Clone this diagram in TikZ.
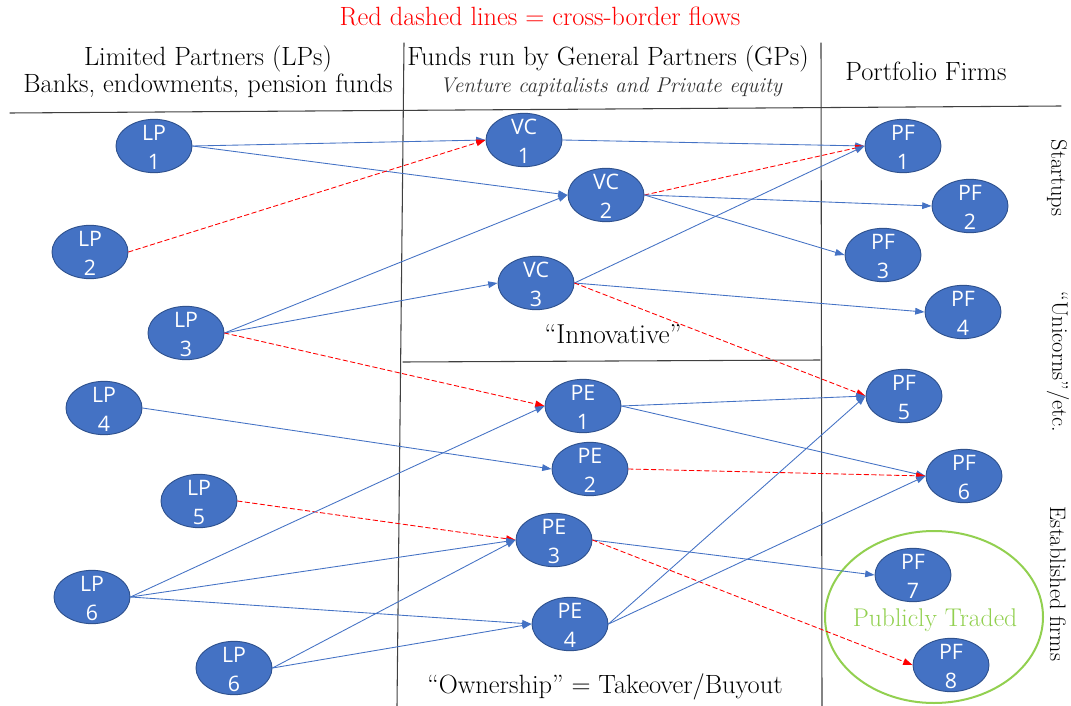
\documentclass[tikz,border=0pt]{standalone}
\usepackage{fontspec}
\newfontfamily\ovalfont{Open Sans}
\usetikzlibrary{arrows.meta,shapes.geometric}
\definecolor{ofblue}{RGB}{68,114,196}
\definecolor{ofedge}{RGB}{47,82,143}
\definecolor{ofgreen}{RGB}{146,208,80}
% two-line label inside an oval, kept from growing the oval
\newcommand{\ovtxt}[2]{\smash{\raisebox{-6.8pt}{\begin{tabular}{@{}c@{}}#1\\#2\end{tabular}}}}

\begin{document}
\begin{tikzpicture}[x=0.75pt, y=-0.75pt, line cap=round, line join=round,
    oval/.style={ellipse, draw=ofedge, line width=0.7pt, fill=ofblue, text=white,
      inner sep=0pt, minimum width=57pt, minimum height=40pt,
      font=\ovalfont\fontsize{16}{21.75}\selectfont},
    flow/.style={ofblue, line width=0.65pt, -{Triangle[length=7pt,width=5pt]}},
    xflow/.style={red, line width=0.65pt, dash pattern=on 3.5pt off 2.2pt,
      -{Triangle[length=7pt,width=5pt]}},
    rule/.style={black!75, line width=0.8pt},
    hdr/.style={font=\fontsize{19.8}{23}\selectfont, inner sep=0pt},
    side/.style={font=\fontsize{16.8}{19}\selectfont, rotate=-90, inner sep=0pt}]
  \useasboundingbox (0,0) rectangle (1071,706);

  % column rules
  \draw[rule] (404,43) -- (397,706);
  \draw[rule] (821,43) -- (822,706);
  \draw[rule] (10,113) -- (1061,106);
  \draw[rule] (403,362) -- (820,360);

  % headings
  \node[hdr, red, anchor=base] (title) at (540,26) {Red dashed lines = cross-border flows};
  \node[hdr, anchor=base] (lphead) at (208,66) {Limited Partners (LPs)};
  \node[hdr, anchor=base] (lpsub) at (208,93) {Banks, endowments, pension funds};
  \node[hdr, anchor=base] (gphead) at (608,66) {Funds run by General Partners (GPs)};
  \node[hdr, anchor=base, font=\fontsize{16}{19}\itshape, text=black!80] (gpsub) at (611,93)
    {Venture capitalists and Private equity};
  \node[hdr, anchor=base] (pfhead) at (926,81) {Portfolio Firms};
  \node[hdr, anchor=base, font=\fontsize{20.5}{23}\selectfont] (innov) at (613,343) {“Innovative”};
  \node[hdr, anchor=base] (ownr) at (605,693) {“Ownership” = Takeover/Buyout};

  \node[side] (startup) at (1057,178) {Startups};
  \node[side] (unicorn) at (1058,362) {“Unicorns”/etc.};
  \node[side] (estab) at (1058,584) {Established firms};

  % publicly traded group
  \node[ellipse, draw=ofgreen, line width=1.5pt, minimum width=163.5pt, minimum height=129pt,
    inner sep=0pt] (pub) at (934,617) {};
  \node[hdr, anchor=base, text=ofgreen, font=\fontsize{19.2}{22}\selectfont] (pubtxt) at (935,626)
    {Publicly Traded};

  % limited partners
  \node[oval] (lp1) at (154,146) {\ovtxt{LP}{1}};
  \node[oval] (lp2) at (90,252) {\ovtxt{LP}{2}};
  \node[oval] (lp3) at (186,333) {\ovtxt{LP}{3}};
  \node[oval] (lp4) at (104,408) {\ovtxt{LP}{4}};
  \node[oval] (lp5) at (199,501) {\ovtxt{LP}{5}};
  \node[oval] (lp6) at (92,597) {\ovtxt{LP}{6}};
  \node[oval] (lp7) at (234,668) {\ovtxt{LP}{6}};

  % funds
  \node[oval] (vc1) at (524,140) {\ovtxt{VC}{1}};
  \node[oval] (vc2) at (606,195) {\ovtxt{VC}{2}};
  \node[oval] (vc3) at (536,283) {\ovtxt{VC}{3}};
  \node[oval] (pe1) at (583,406) {\ovtxt{PE}{1}};
  \node[oval] (pe2) at (590,469) {\ovtxt{PE}{2}};
  \node[oval] (pe3) at (554,540) {\ovtxt{PE}{3}};
  \node[oval] (pe4) at (570,624) {\ovtxt{PE}{4}};

  % portfolio firms
  \node[oval] (pf1) at (903,146) {\ovtxt{PF}{1}};
  \node[oval] (pf2) at (970,206) {\ovtxt{PF}{2}};
  \node[oval] (pf3) at (883,255) {\ovtxt{PF}{3}};
  \node[oval] (pf4) at (963,312) {\ovtxt{PF}{4}};
  \node[oval] (pf5) at (904,396) {\ovtxt{PF}{5}};
  \node[oval] (pf6) at (964,476) {\ovtxt{PF}{6}};
  \node[oval] (pf7) at (913,575) {\ovtxt{PF}{7}};
  \node[oval] (pf8) at (951,665) {\ovtxt{PF}{8}};

  % LPs -> funds
  \draw[flow] (lp1.east) -- (vc1.west);
  \draw[flow] (lp1.east) -- (vc2.west);
  \draw[xflow] (lp2.east) -- (vc1.west);
  \draw[flow] (lp3.east) -- (vc2.west);
  \draw[flow] (lp3.east) -- (vc3.west);
  \draw[xflow] (lp3.east) -- (pe1.west);
  \draw[flow] (lp4.east) -- (pe2.west);
  \draw[xflow] (lp5.east) -- (pe3.west);
  \draw[flow] (lp6.east) -- (pe1.west);
  \draw[flow] (lp6.east) -- (pe3.west);
  \draw[flow] (lp6.east) -- (pe4.west);
  \draw[flow] (lp7.east) -- (pe3.west);
  \draw[flow] (lp7.east) -- (pe4.west);

  % funds -> firms
  \draw[flow] (vc1.east) -- (pf1.west);
  \draw[xflow] (vc2.east) -- (pf1.west);
  \draw[flow] (vc2.east) -- (pf2.west);
  \draw[flow] (vc2.east) -- (pf3.west);
  \draw[flow] (vc3.east) -- (pf1.west);
  \draw[flow] (vc3.east) -- (pf4.west);
  \draw[xflow] (vc3.east) -- (pf5.west);
  \draw[flow] (pe1.east) -- (pf5.west);
  \draw[flow] (pe1.east) -- (pf6.west);
  \draw[xflow] (pe2.east) -- (pf6.west);
  \draw[flow] (pe3.east) -- (pf7.west);
  \draw[xflow] (pe3.east) -- (pf8.west);
  \draw[flow] (pe4.east) -- (pf5.west);
  \draw[flow] (pe4.east) -- (pf6.west);
\end{tikzpicture}
\end{document}
